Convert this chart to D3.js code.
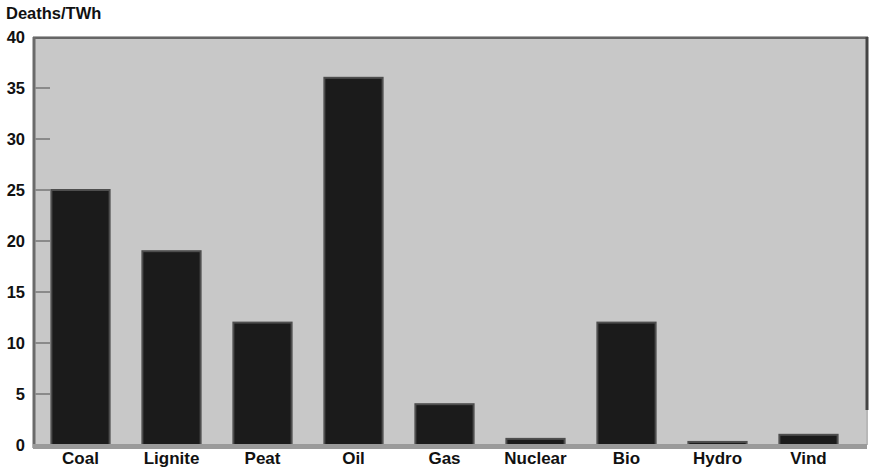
<!DOCTYPE html>
<html><head><meta charset="utf-8">
<script src="https://cdn.jsdelivr.net/npm/d3@7"></script>
<style>body{margin:0;background:#fff;}svg{display:block;}text{font-family:Arial,"Liberation Sans",sans-serif;font-weight:bold;fill:#111;}</style>
</head><body><svg id="c" width="870" height="468"></svg>
<script>
const categories = ["Coal","Lignite","Peat","Oil","Gas","Nuclear","Bio","Hydro","Vind"];
const values = [25, 19, 12, 36, 4, 0.6, 12, 0.3, 1.0];
const yTicks = [0,5,10,15,20,25,30,35,40];
const yTitle = "Deaths/TWh";

(function(){
const svg = d3.select("#c");
const pL = 33, pR = 867, pT = 37, pB = 445;
const x = d3.scaleBand().domain(categories).range([35, 854]).paddingInner(0.36).paddingOuter(0.18);
const y = d3.scaleLinear().domain([0,40]).range([pB, pT]);

// plot background
svg.append("rect").attr("x", pL).attr("y", pT).attr("width", pR-pL).attr("height", pB-pT).attr("fill", "#c8c8c8");
// top border
svg.append("line").attr("x1", pL).attr("x2", pR+1).attr("y1", pT-0.5).attr("y2", pT-0.5).attr("stroke","#aaa").attr("stroke-width",1);
svg.append("line").attr("x1", pL).attr("x2", pR+1).attr("y1", pT+1).attr("y2", pT+1).attr("stroke","#666").attr("stroke-width",2);
// left border
svg.append("line").attr("x1", pL+1).attr("x2", pL+1).attr("y1", pT).attr("y2", pB+3).attr("stroke","#6a6a6a").attr("stroke-width",3);
// right border
svg.append("line").attr("x1", pR).attr("x2", pR).attr("y1", pT).attr("y2", 410).attr("stroke","#444").attr("stroke-width",3);
svg.append("line").attr("x1", pR).attr("x2", pR).attr("y1", 410).attr("y2", pB).attr("stroke","#b8b8b8").attr("stroke-width",2);

// y ticks
const yAxis = d3.axisLeft(y).tickValues(yTicks).tickSize(0).tickPadding(7);
const ga = svg.append("g").attr("transform", `translate(${pL-1},0)`).call(yAxis);
ga.select(".domain").remove();
ga.selectAll("text").attr("font-size", 16.5).attr("font-family","Arial,'Liberation Sans',sans-serif").attr("font-weight","bold").attr("fill","#111").attr("dy","0.36em");
svg.selectAll(".ytick").data(yTicks.filter(d => d > 0 && d < 40)).enter().append("line")
  .attr("x1", pL+2).attr("x2", pL+17).attr("y1", d => y(d)).attr("y2", d => y(d))
  .attr("stroke", "#8a8a8a").attr("stroke-width", 2);

// bars
svg.selectAll(".bar").data(values).enter().append("rect")
  .attr("x", (d,i) => x(categories[i]))
  .attr("y", d => y(d))
  .attr("width", x.bandwidth())
  .attr("height", d => y(0) - y(d))
  .attr("fill", "#1b1b1b").attr("stroke", "#4e4e4e").attr("stroke-width", 2);

// baseline band
svg.append("rect").attr("x", pL).attr("y", pB-1).attr("width", pR-pL).attr("height", 5).attr("fill", "#9a9a9a");

// x labels
const xAxis = d3.axisBottom(x).tickSize(0).tickPadding(5);
const gx = svg.append("g").attr("transform", `translate(0,${pB+2})`).call(xAxis);
gx.select(".domain").remove();
gx.selectAll("text").attr("font-size", 17).attr("font-family","Arial,'Liberation Sans',sans-serif").attr("font-weight","bold").attr("fill","#111");

// title
svg.append("text").attr("x", 6).attr("y", 19).attr("font-size", 16.5).text(yTitle);
})();
</script></body></html>
